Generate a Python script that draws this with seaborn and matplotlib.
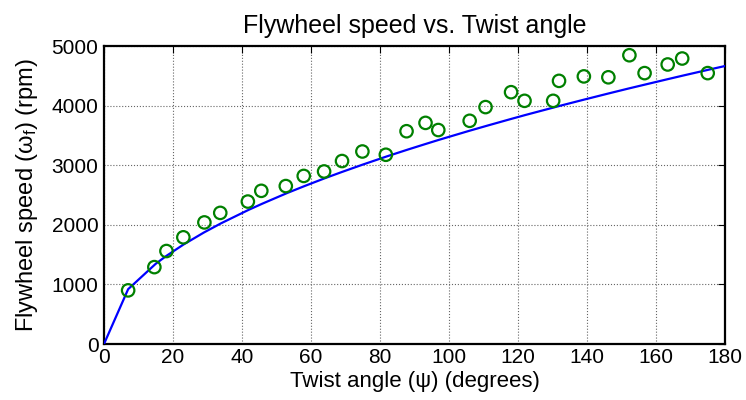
import matplotlib
matplotlib.use("Agg")
import matplotlib.pyplot as plt
import seaborn as sns
import pandas as pd

# Measured data (twist angle in degrees, flywheel speed in rpm)
angle = [7.0, 14.6, 18.1, 23.0, 29.1, 33.7, 41.7, 45.6, 52.7, 57.9, 63.8, 69.0,
         74.9, 81.7, 87.7, 93.2, 96.9, 106.0, 110.6, 118.0, 121.9, 130.2, 131.9,
         139.1, 146.2, 152.3, 156.7, 163.4, 167.6, 175.0]
speed = [900, 1290, 1560, 1790, 2040, 2200, 2390, 2570, 2650, 2820, 2895, 3070,
         3230, 3175, 3570, 3710, 3590, 3745, 3975, 4225, 4080, 4080, 4415,
         4490, 4475, 4845, 4545, 4690, 4790, 4545]

# Fitted curve
fit_angle = [0, 7, 15, 18, 23, 29, 34, 42, 46, 53, 58, 64, 69, 75, 82, 88, 93, 97,
             106, 111, 118, 122, 130, 132, 139, 146, 152, 157, 163, 168, 175, 180]
fit_speed = [0, 920, 1346, 1475, 1667, 1872, 2027, 2253, 2357, 2531, 2647, 2781,
             2887, 3010, 3148, 3261, 3352, 3424, 3579, 3662, 3776, 3840, 3963,
             3994, 4098, 4200, 4286, 4355, 4438, 4506, 4599, 4664]

x_ticks = [0, 20, 40, 60, 80, 100, 120, 140, 160, 180]
y_ticks = [0, 1000, 2000, 3000, 4000, 5000]

sns.set_theme(style="white")
plt.rcParams['font.family'] = ['Liberation Sans', 'DejaVu Sans']
plt.rcParams['text.color'] = 'black'
plt.rcParams['axes.labelcolor'] = 'black'
plt.rcParams['mathtext.fontset'] = 'custom'
plt.rcParams['mathtext.rm'] = 'Liberation Sans'
plt.rcParams['mathtext.it'] = 'Liberation Sans:italic'

fig = plt.figure(figsize=(7.46, 4.0), dpi=100)
ax = fig.add_axes([0.1394, 0.14, 0.8324, 0.745])

df_fit = pd.DataFrame({"angle": fit_angle, "speed": fit_speed})
df_pts = pd.DataFrame({"angle": angle, "speed": speed})

sns.lineplot(data=df_fit, x="angle", y="speed", ax=ax, color=(0, 0, 1),
             linewidth=1.6, sort=False, zorder=3)
sns.scatterplot(data=df_pts, x="angle", y="speed", ax=ax, s=80,
                facecolors='none', edgecolor=(0, 0.5, 0), linewidth=1.6, zorder=4)

ax.set_xlim(0, 180)
ax.set_ylim(0, 5000)
ax.set_xticks(x_ticks)
ax.set_yticks(y_ticks)
ax.tick_params(direction='in', top=True, right=True, length=5, width=0.8,
               labelsize=15, colors='black')
ax.tick_params(axis='x', pad=3)
ax.tick_params(axis='y', pad=4)
ax.grid(True, linestyle=':', color='#666666', linewidth=0.8)
for s in ax.spines.values():
    s.set_color('black')
    s.set_linewidth(1.6)

ax.set_title("Flywheel speed vs. Twist angle", fontsize=18, pad=9, color='black')
ax.set_xlabel("Twist angle (ψ) (degrees)", fontsize=16, labelpad=3)
ax.set_ylabel(r"Flywheel speed (ω$_\mathrm{f}$) (rpm)", fontsize=17, labelpad=8)

fig.savefig("out.png", dpi=100)
